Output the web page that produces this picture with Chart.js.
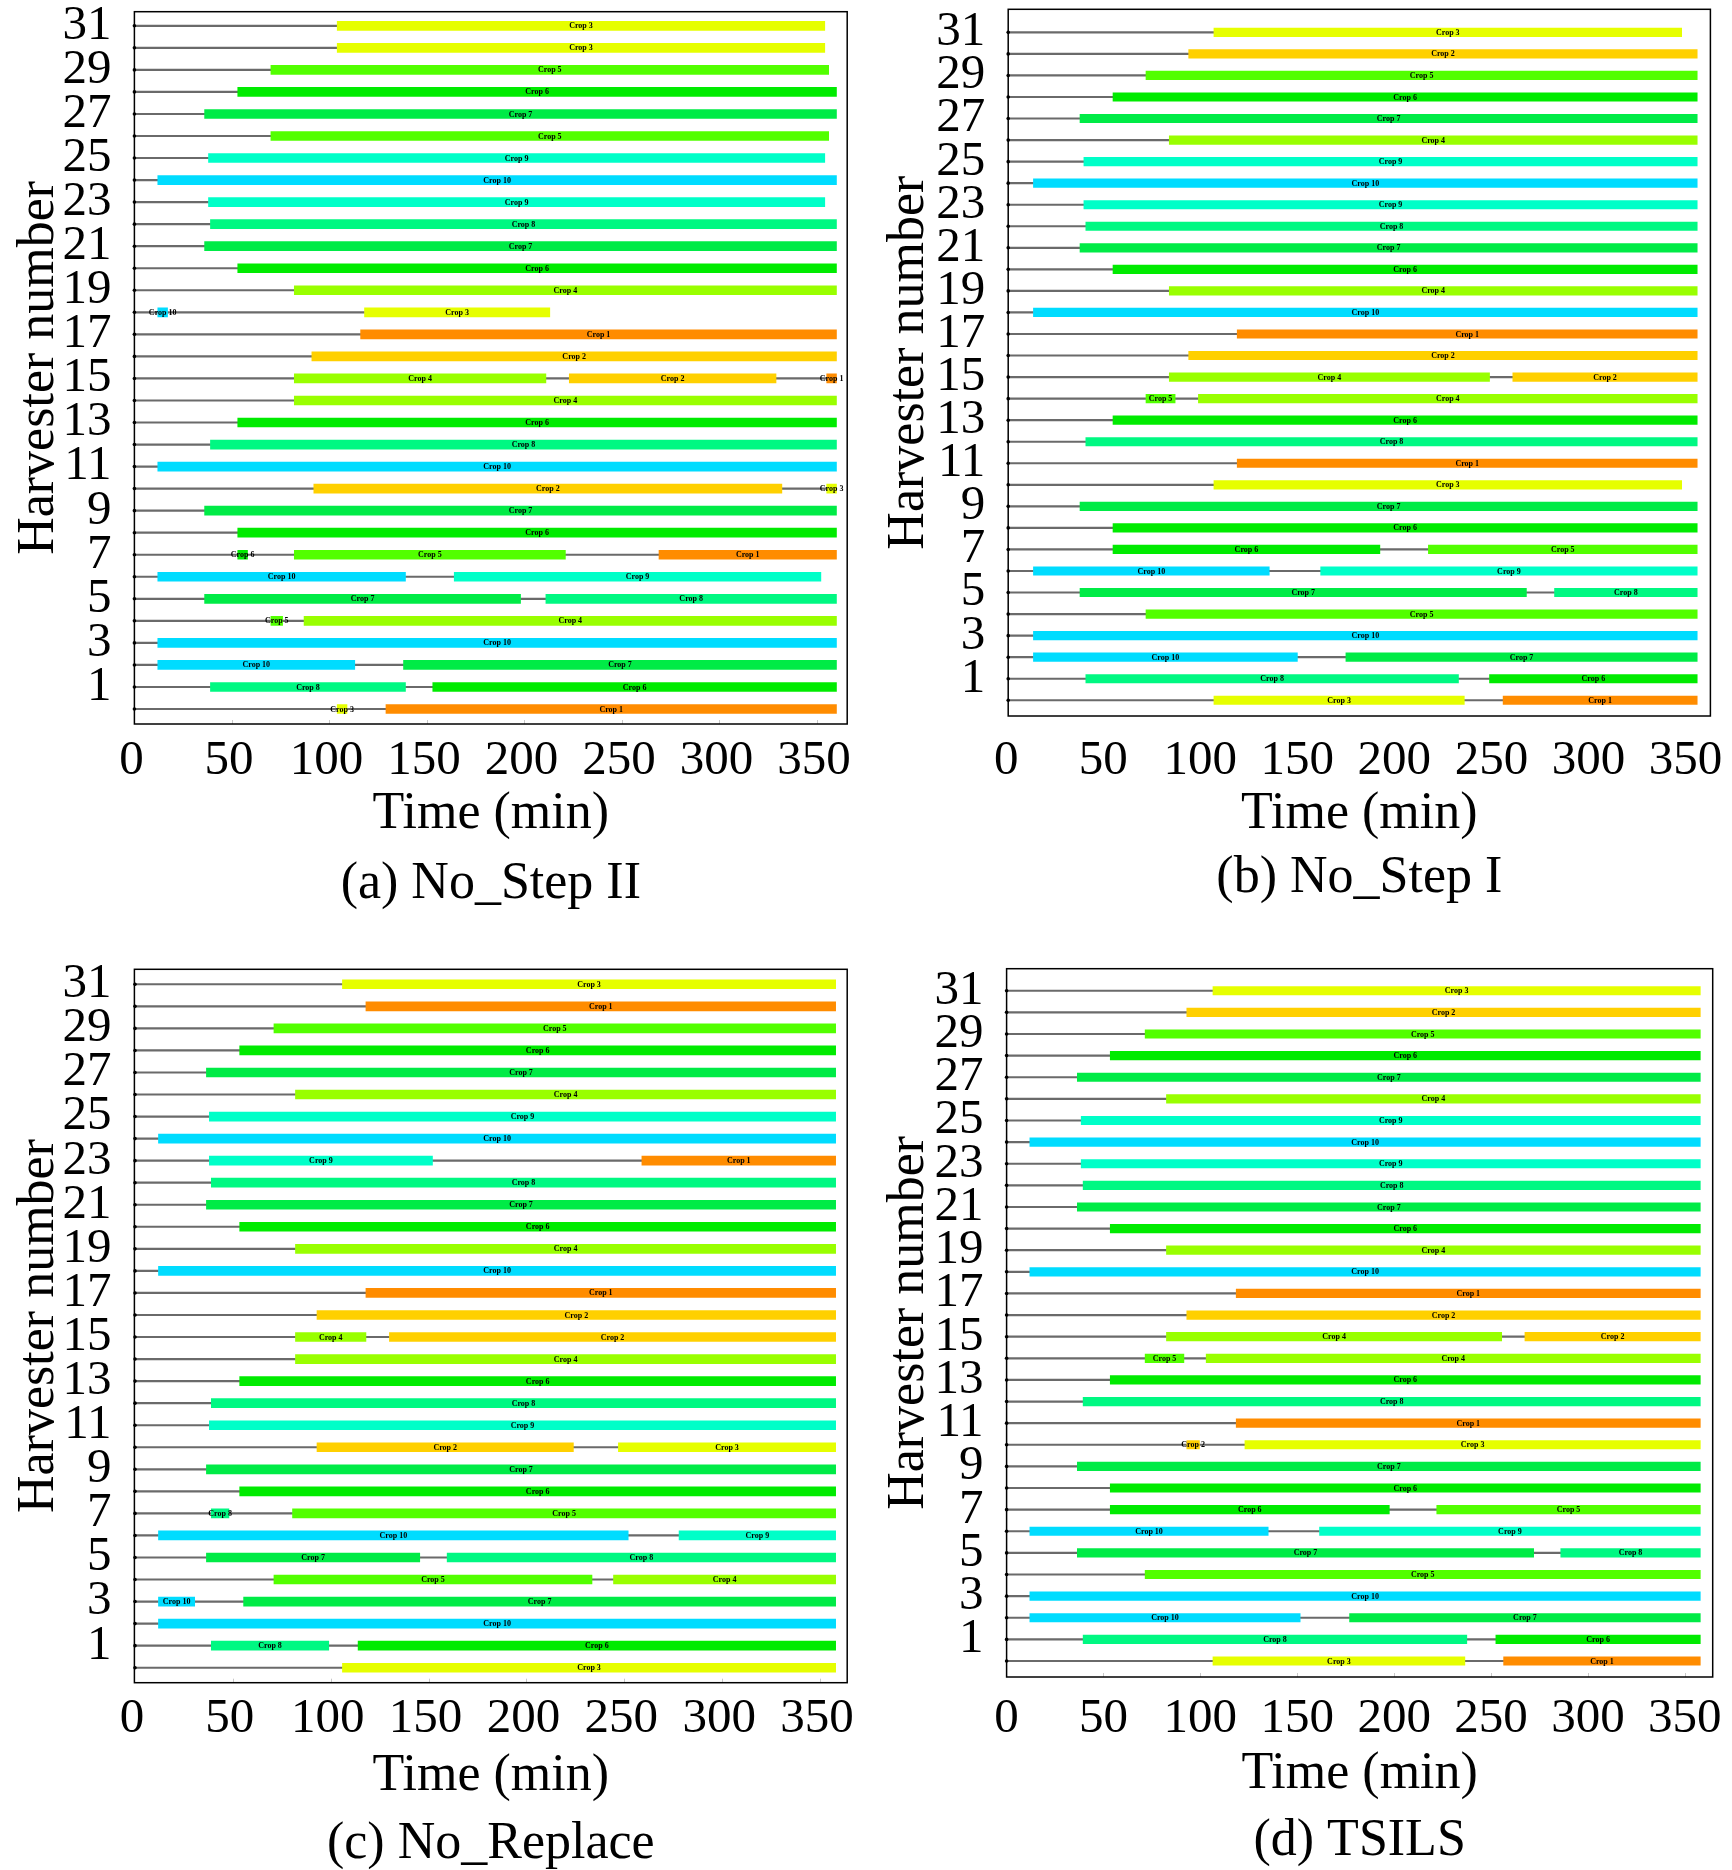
<!DOCTYPE html>
<html>
<head>
<meta charset="utf-8">
<title>Harvester schedules</title>
<script src="https://cdn.jsdelivr.net/npm/chart.js@4.4.1/dist/chart.umd.min.js"></script>
<style>
  html, body { margin: 0; padding: 0; background: #fff; }
  #page { position: relative; width: 1732px; height: 1870px; background: #fff; overflow: hidden; }
  #page canvas { position: absolute; }
</style>
</head>
<body>
<div id="page">
  <canvas id="panelA" width="866" height="935" style="left:0px;top:0px"></canvas>
  <canvas id="panelB" width="866" height="935" style="left:866px;top:0px"></canvas>
  <canvas id="panelC" width="866" height="935" style="left:0px;top:935px"></canvas>
  <canvas id="panelD" width="866" height="935" style="left:866px;top:935px"></canvas>
</div>
<script>
// harvesters 0..31, only odd numbers get a tick label
var harvesters = [0, 1, 2, 3, 4, 5, 6, 7, 8, 9, 10, 11, 12, 13, 14, 15,
                  16, 17, 18, 19, 20, 21, 22, 23, 24, 25, 26, 27, 28, 29, 30, 31];
var yTickLabels = [1, 3, 5, 7, 9, 11, 13, 15, 17, 19, 21, 23, 25, 27, 29, 31];
var xTickLabels = [0, 50, 100, 150, 200, 250, 300, 350];
var cropNames = ['Crop 1', 'Crop 2', 'Crop 3', 'Crop 4', 'Crop 5',
                 'Crop 6', 'Crop 7', 'Crop 8', 'Crop 9', 'Crop 10'];
var cropColors = ['#ff8c00', '#ffd000', '#e6ff00', '#99ff00', '#52ff00',
                  '#00eb00', '#00eb46', '#00f882', '#00ffc8', '#00dcff'];

// [harvester, start (min), end (min), crop]
var noStepII = [
  [31, 104, 354, 3], [30, 104, 354, 3], [29, 70, 356, 5], [28, 53, 360, 6],
  [27, 36, 360, 7], [26, 70, 356, 5], [25, 38, 354, 9], [24, 12, 360, 10],
  [23, 38, 354, 9], [22, 39, 360, 8], [21, 36, 360, 7], [20, 53, 360, 6],
  [19, 82, 360, 4], [18, 12, 17, 10], [18, 118, 213, 3], [17, 116, 360, 1],
  [16, 91, 360, 2], [15, 82, 211, 4], [15, 223, 329, 2], [15, 355, 360, 1],
  [14, 82, 360, 4], [13, 53, 360, 6], [12, 39, 360, 8], [11, 12, 360, 10],
  [10, 92, 332, 2], [10, 355, 360, 3], [9, 36, 360, 7], [8, 53, 360, 6],
  [7, 53, 58, 6], [7, 82, 221, 5], [7, 269, 360, 1],
  [6, 12, 139, 10], [6, 164, 352, 9], [5, 36, 198, 7], [5, 211, 360, 8],
  [4, 70, 76, 5], [4, 87, 360, 4], [3, 12, 360, 10],
  [2, 12, 113, 10], [2, 138, 360, 7], [1, 39, 139, 8], [1, 153, 360, 6],
  [0, 104, 109, 3], [0, 129, 360, 1]
];

var noStepI = [
  [31, 106, 347, 3], [30, 93, 355, 2], [29, 71, 355, 5], [28, 54, 355, 6],
  [27, 37, 355, 7], [26, 83, 355, 4], [25, 39, 355, 9], [24, 13, 355, 10],
  [23, 39, 355, 9], [22, 40, 355, 8], [21, 37, 355, 7], [20, 54, 355, 6],
  [19, 83, 355, 4], [18, 13, 355, 10], [17, 118, 355, 1], [16, 93, 355, 2],
  [15, 83, 248, 4], [15, 260, 355, 2], [14, 71, 86, 5], [14, 98, 355, 4],
  [13, 54, 355, 6], [12, 40, 355, 8], [11, 118, 355, 1], [10, 106, 347, 3],
  [9, 37, 355, 7], [8, 54, 355, 6], [7, 54, 191.5, 6], [7, 216.5, 355, 5],
  [6, 13, 134.5, 10], [6, 161, 355, 9], [5, 37, 267, 7], [5, 281.5, 355, 8],
  [4, 71, 355, 5], [3, 13, 355, 10], [2, 13, 149, 10], [2, 174, 355, 7],
  [1, 40, 232, 8], [1, 248, 355, 6], [0, 106, 235, 3], [0, 255, 355, 1]
];

var noReplace = [
  [31, 106, 358, 3], [30, 118, 358, 1], [29, 71, 358, 5], [28, 53.5, 358, 6],
  [27, 36.5, 358, 7], [26, 82, 358, 4], [25, 38, 358, 9], [24, 12, 358, 10],
  [23, 38, 152, 9], [23, 259, 358, 1], [22, 39, 358, 8], [21, 36.5, 358, 7],
  [20, 53.5, 358, 6], [19, 82, 358, 4], [18, 12, 358, 10], [17, 118, 358, 1],
  [16, 93, 358, 2], [15, 82, 118, 4], [15, 130, 358, 2], [14, 82, 358, 4],
  [13, 53.5, 358, 6], [12, 39, 358, 8], [11, 38, 358, 9],
  [10, 93, 224, 2], [10, 247, 358, 3], [9, 36.5, 358, 7], [8, 53.5, 358, 6],
  [7, 39, 48, 8], [7, 80.5, 358, 5], [6, 12, 252, 10], [6, 278, 358, 9],
  [5, 36.5, 145.5, 7], [5, 159.5, 358, 8], [4, 71, 233.5, 5], [4, 244.5, 358, 4],
  [3, 12, 30.5, 10], [3, 55.5, 358, 7], [2, 12, 358, 10],
  [1, 39, 99, 8], [1, 114, 358, 6], [0, 106, 358, 3]
];

var tsils = [
  [31, 106.5, 358, 3], [30, 93, 358, 2], [29, 71.5, 358, 5], [28, 53.5, 358, 6],
  [27, 36.5, 358, 7], [26, 82.5, 358, 4], [25, 38.5, 358, 9], [24, 12, 358, 10],
  [23, 38.5, 358, 9], [22, 39.5, 358, 8], [21, 36.5, 358, 7], [20, 53.5, 358, 6],
  [19, 82.5, 358, 4], [18, 12, 358, 10], [17, 118.5, 358, 1], [16, 93, 358, 2],
  [15, 82.5, 255.5, 4], [15, 267.5, 358, 2], [14, 71.5, 91.5, 5], [14, 103, 358, 4],
  [13, 53.5, 358, 6], [12, 39.5, 358, 8], [11, 118.5, 358, 1],
  [10, 93, 99.5, 2], [10, 123, 358, 3], [9, 36.5, 358, 7], [8, 53.5, 358, 6],
  [7, 53.5, 197.5, 6], [7, 222, 358, 5], [6, 12, 135, 10], [6, 161.5, 358, 9],
  [5, 36.5, 272, 7], [5, 286, 358, 8], [4, 71.5, 358, 5], [3, 12, 358, 10],
  [2, 12, 151.5, 10], [2, 177, 358, 7], [1, 39.5, 237.5, 8], [1, 252.5, 358, 6],
  [0, 106.5, 236.5, 3], [0, 256.5, 358, 1]
];

var SERIF = '"Liberation Serif", "Times New Roman", serif';
var TICK_SIZE = 49, TITLE_SIZE = 52;
var CW = 866, CH = 935;

// page geometry of each panel (plot box = [left, top, right, bottom])
var panels = [
  {id: 'panelA', caption: '(a) No_Step II', tasks: noStepII, left: 0, top: 0,
   plot: [134.4, 11.7, 847.2, 724], x: [0, 365.5], y: [-0.68, 31.64], labelShift: -3,
   tickY: 760, titleY: 813, capY: 883, yTitleX: 39, bar: 9, tickMarks: true},
  {id: 'panelB', caption: '(b) No_Step I', tasks: noStepI, left: 866, top: 0,
   plot: [1008.2, 9.3, 1710.4, 716], x: [0, 361.8], y: [-0.73, 32.07], labelShift: -2,
   tickY: 760, titleY: 813, capY: 877, yTitleX: 909, bar: 8.5, tickMarks: false},
  {id: 'panelC', caption: '(c) No_Replace', tasks: noReplace, left: 0, top: 935,
   plot: [134.4, 969.3, 847.2, 1682.7], x: [-0.3, 363.9], y: [-0.68, 31.68], labelShift: -3,
   tickY: 1718, titleY: 1775, capY: 1843, yTitleX: 39, bar: 9, tickMarks: true},
  {id: 'panelD', caption: '(d) TSILS', tasks: tsils, left: 866, top: 935,
   plot: [1006.6, 968.7, 1712.7, 1677], x: [0, 364.4], y: [-0.74, 32.02], labelShift: 0,
   tickY: 1718, titleY: 1773, capY: 1840, yTitleX: 909, bar: 8.5, tickMarks: true}
];

// idle / travel time: from 0 to first task, and between tasks
function idleSegments(tasks) {
  var segs = [];
  harvesters.forEach(function (h) {
    var own = tasks.filter(function (t) { return t[0] === h; })
                   .sort(function (a, b) { return a[1] - b[1]; });
    var t = 0;
    own.forEach(function (task) {
      if (task[1] > t) segs.push({x: [t, task[1]], y: h});
      t = task[2];
    });
  });
  return segs;
}

var cropLabels = {
  id: 'cropLabels',
  afterDatasetsDraw: function (chart) {
    var ctx = chart.ctx;
    var ds = chart.data.datasets[0];
    ctx.save();
    ctx.font = 'bold 8px ' + SERIF;
    ctx.fillStyle = '#000';
    ctx.textAlign = 'center';
    ctx.textBaseline = 'middle';
    chart.getDatasetMeta(0).data.forEach(function (bar, i) {
      ctx.fillText(cropNames[ds.data[i].crop - 1], (bar.x + bar.base) / 2, bar.y + 0.5);
    });
    ctx.restore();
  }
};

var frame = {
  id: 'frame',
  afterDraw: function (chart, args, opts) {
    var a = chart.chartArea, ctx = chart.ctx;
    ctx.save();
    if (opts.tickMarks) {
      ctx.strokeStyle = '#c8c8c8';
      ctx.lineWidth = 1;
      xTickLabels.forEach(function (v) {
        if (v === 0) return;
        var px = Math.round(chart.scales.x.getPixelForValue(v)) + 0.5;
        ctx.beginPath();
        ctx.moveTo(px, a.bottom);
        ctx.lineTo(px, a.bottom - 4);
        ctx.stroke();
      });
    }
    ctx.strokeStyle = '#000';
    ctx.lineWidth = 1.5;
    ctx.strokeRect(a.left, a.top, a.right - a.left, a.bottom - a.top);
    ctx.restore();
  }
};

Chart.defaults.color = '#000';
Chart.defaults.font.family = SERIF;

panels.forEach(function (p) {
  var L = p.plot[0] - p.left, T = p.plot[1] - p.top;
  var R = p.plot[2] - p.left, B = p.plot[3] - p.top;
  var capLH = TITLE_SIZE * 0.9, titleLH = TITLE_SIZE * 1.2, tickLH = TICK_SIZE * 1.2;
  var padBottom = CH - capLH / 2 - (p.capY + 1.5 - p.top);
  var capTop = CH - padBottom - capLH;
  var xScaleH = capTop - B;
  var xTitlePad = capTop - titleLH / 2 - (p.titleY + 1.5 - p.top);
  var xTickPad = (p.tickY + 1.5 - p.top) - B - tickLH / 2;
  var yTitlePad = (p.yTitleX - p.left) - titleLH / 2;

  var bars = p.tasks.map(function (t) { return {x: [t[1], t[2]], y: t[0], crop: t[3]}; });

  new Chart(document.getElementById(p.id), {
    type: 'bar',
    data: {
      datasets: [
        {
          data: bars,
          backgroundColor: bars.map(function (b) { return cropColors[b.crop - 1]; }),
          borderWidth: 0,
          barThickness: p.bar,
          grouped: false
        },
        {
          type: 'scatter',
          data: harvesters.map(function (h) { return {x: 0, y: h}; }),
          pointRadius: 1.8,
          pointBackgroundColor: '#000',
          pointBorderWidth: 0,
          clip: false
        },
        {
          data: idleSegments(p.tasks),
          backgroundColor: '#6a6a6a',
          borderWidth: 0,
          barThickness: 1.5,
          grouped: false
        }
      ]
    },
    options: {
      indexAxis: 'y',
      responsive: false,
      animation: false,
      devicePixelRatio: 1,
      events: [],
      layout: {padding: {left: 0, top: T, right: CW - R, bottom: padBottom}},
      plugins: {
        legend: {display: false},
        tooltip: {enabled: false},
        title: {
          display: true, position: 'bottom', fullSize: false,
          text: p.caption, color: '#000', padding: 0,
          font: {family: SERIF, size: TITLE_SIZE, weight: 'normal', lineHeight: 0.9}
        },
        frame: {tickMarks: p.tickMarks}
      },
      scales: {
        x: {
          type: 'linear', min: p.x[0], max: p.x[1],
          grid: {display: false, drawTicks: false},
          border: {display: false},
          afterBuildTicks: function (s) { s.ticks = xTickLabels.map(function (v) { return {value: v}; }); },
          afterFit: function (s) { s.height = xScaleH; s.paddingLeft = 0; s.paddingRight = 0; },
          ticks: {font: {size: TICK_SIZE}, color: '#000', padding: xTickPad, labelOffset: p.labelShift,
                  autoSkip: false, maxRotation: 0, minRotation: 0},
          title: {display: true, text: 'Time (min)', color: '#000',
                  font: {size: TITLE_SIZE}, padding: {top: 0, bottom: xTitlePad}}
        },
        y: {
          type: 'linear', min: p.y[0], max: p.y[1], offset: false,
          grid: {display: false, drawTicks: false},
          border: {display: false},
          afterBuildTicks: function (s) { s.ticks = yTickLabels.map(function (v) { return {value: v}; }); },
          afterFit: function (s) { s.width = L; s.paddingTop = 0; s.paddingBottom = 0; },
          ticks: {font: {size: TICK_SIZE}, color: '#000', padding: 23, autoSkip: false},
          title: {display: true, text: 'Harvester number', color: '#000',
                  font: {size: TITLE_SIZE}, padding: {top: yTitlePad, bottom: 0}}
        }
      }
    },
    plugins: [cropLabels, frame]
  });
});
</script>
</body>
</html>
